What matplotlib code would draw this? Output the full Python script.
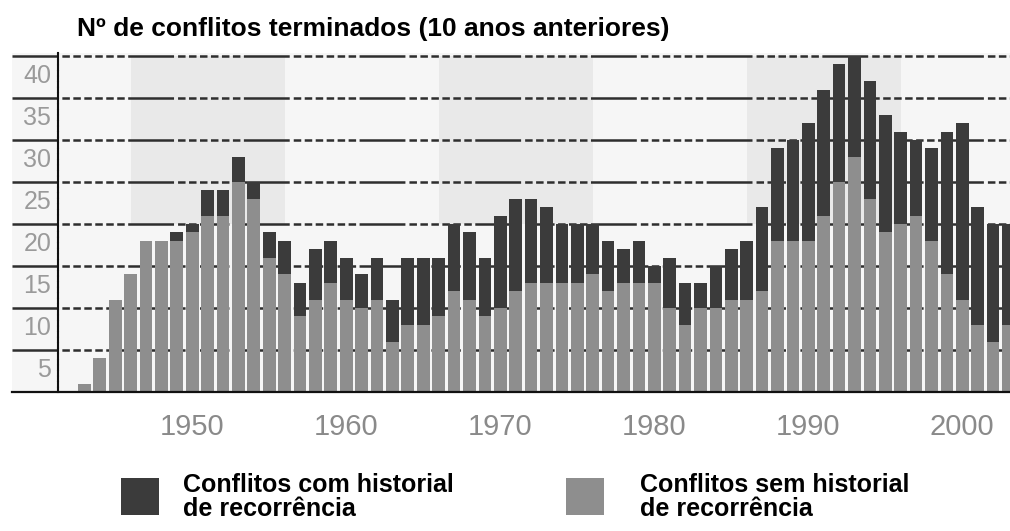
import matplotlib
matplotlib.use("Agg")
import matplotlib.pyplot as plt
import matplotlib.transforms as mtransforms
from matplotlib.patches import Rectangle

# --- data ---
years = list(range(1943, 2004))
# conflicts ended without a history of recurrence (light part)
sem_historial = [1, 4, 11, 14, 18, 18, 18, 19, 21, 21, 25, 23, 16, 14, 9, 11, 13,
                 11, 10, 11, 6, 8, 8, 9, 12, 11, 9, 10, 12, 13, 13, 13, 13, 14,
                 12, 13, 13, 13, 10, 8, 10, 10, 11, 11, 12, 18, 18, 18, 21, 25,
                 28, 23, 19, 20, 21, 18, 14, 11, 8, 6, 8]
# conflicts ended with a history of recurrence (dark part, stacked on top)
com_historial = [0, 0, 0, 0, 0, 0, 1, 1, 3, 3, 3, 2, 3, 4, 4, 6, 5,
                 5, 4, 5, 5, 8, 8, 7, 8, 8, 7, 11, 11, 10, 9, 7, 7, 6,
                 6, 4, 5, 2, 6, 5, 3, 5, 6, 7, 10, 11, 12, 14, 15, 14,
                 12, 14, 14, 11, 9, 11, 17, 21, 14, 14, 12]

y_ticks = [5, 10, 15, 20, 25, 30, 35, 40]
x_ticks = [1950, 1960, 1970, 1980, 1990, 2000]
band_start = [1946, 1966, 1986]
band_end = [1956, 1976, 1996]

title = "Nº de conflitos terminados (10 anos anteriores)"
legend_labels = ["Conflitos com historial\nde recorrência",
                 "Conflitos sem historial\nde recorrência"]

dark = "#3b3b3b"
light = "#8e8e8e"
bold_font = ["Liberation Sans", "DejaVu Sans"]

plt.rcParams["lines.scale_dashes"] = False

fig = plt.figure(figsize=(10.1, 5.31), dpi=100)
W, H = 1010, 531
ax = fig.add_axes([12 / W, (H - 392) / H, (W - 12) / W, (392 - 52.6) / H])
ax.set_facecolor("#f6f6f6")
ax.set_xlim(1938.3, 2003.1)
ax.set_ylim(0, 40.4)

# shaded decade bands in the upper part of the plot
for x0, x1 in zip(band_start, band_end):
    ax.axvspan(x0, x1, ymin=20 / 40.4, ymax=40 / 40.4, color="#e9e9e9", lw=0, zorder=0)

# dashed grid: one long dash followed by six short ones
grid_dashes = (33, 2.9, 5.4, 2.5, 5.4, 2.5, 5.4, 2.5, 5.4, 2.5, 5.4, 2.5, 5.4, 2.5)
for v in y_ticks:
    ax.axhline(v, color="#2e2e2e", lw=1.8, dashes=grid_dashes, zorder=1)

ax.bar(years, sem_historial, width=0.82, color=light, zorder=2)
ax.bar(years, com_historial, width=0.82, bottom=sem_historial, color=dark, zorder=2)

for side in ["top", "right"]:
    ax.spines[side].set_visible(False)
ax.spines["bottom"].set_color("#111111")
ax.spines["bottom"].set_linewidth(1.6)
ax.spines["left"].set_position(("data", 1941.3))
ax.spines["left"].set_color("#111111")
ax.spines["left"].set_linewidth(1.5)
ax.spines["left"].set_linestyle((0, (3, 1)))
ax.spines["left"].set_bounds(0, 40.4)

ax.set_yticks(y_ticks)
ax.set_yticklabels([str(v) for v in y_ticks])
ax.set_xticks(x_ticks)
ax.set_xticklabels([str(v) for v in x_ticks])
ax.tick_params(axis="y", length=0, pad=5, labelsize=18, labelcolor="#9a9a9a")
ax.tick_params(axis="x", length=0, pad=15, labelsize=21, labelcolor="#8a8a8a")
for lab in ax.get_yticklabels():
    lab.set_fontfamily("Liberation Sans")
    lab.set_transform(lab.get_transform() +
                      mtransforms.ScaledTranslation(0, -0.18, fig.dpi_scale_trans))
for lab in ax.get_xticklabels():
    lab.set_fontfamily("Liberation Sans")

fig.text(77 / W, 1 - 36 / H, title, fontsize=19, fontweight="bold",
         family=bold_font, va="baseline", ha="left", color="black")

# legend: square swatch plus two-line label
swatch_x = [121, 566]
text_x = [183, 640]
for sx, tx, color, label in zip(swatch_x, text_x, [dark, light], legend_labels):
    fig.add_artist(Rectangle((sx / W, 1 - 515 / H), 38 / W, 37 / H,
                             transform=fig.transFigure, color=color, lw=0))
    fig.text(tx / W, 1 - 473 / H, label, fontsize=18, fontweight="bold",
             family=bold_font, va="top", ha="left", linespacing=1.0, color="black")

fig.savefig("out.png", dpi=100)
